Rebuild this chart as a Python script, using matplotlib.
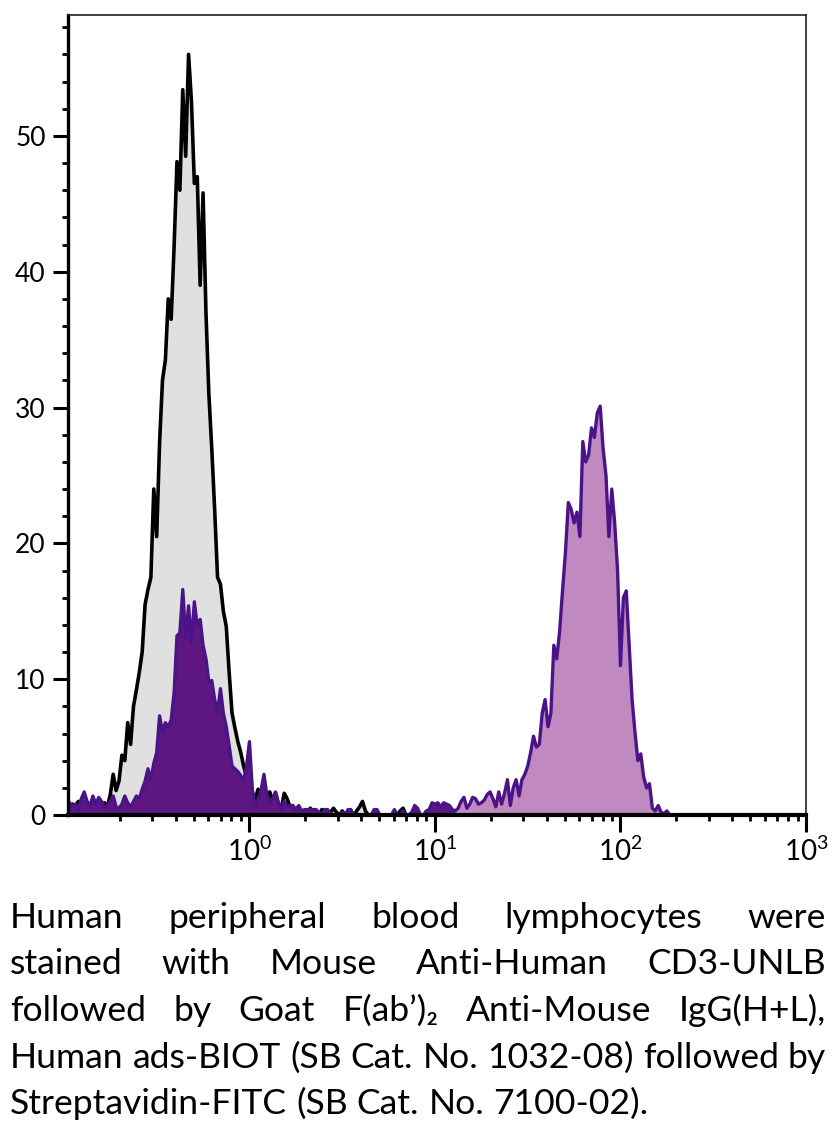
import numpy as np
import matplotlib
matplotlib.use("Agg")
import matplotlib.pyplot as plt
from matplotlib.ticker import FixedLocator, LogLocator, NullFormatter, FuncFormatter, MultipleLocator

# ---------------- data (counts per channel, 64 channels per decade starting at 10^-1) ----------------
channels_per_decade = 64
first_decade = -1

control_counts = [
    0.4, 0.6, 0.3, 0.8, 0.7, 1.0, 0.6, 0.9, 0.5, 0.8,
    1.0, 0.6, 0.9, 0.7, 0.9, 0.6, 1.5, 3.0, 1.8, 2.5,
    4.4, 4.0, 6.8, 5.2, 8.0, 9.2, 10.5, 12.0, 15.5, 16.6,
    17.5, 24.0, 20.5, 27.4, 32.0, 33.5, 38.0, 36.5, 41.8, 48.1,
    46.0, 53.4, 48.5, 56.0, 52.5, 46.5, 47.0, 39.0, 45.8, 37.0,
    31.0, 27.0, 22.5, 17.5, 17.0, 15.0, 13.9, 10.5, 7.5, 6.4,
    5.4, 4.6, 3.6, 2.8, 2.0, 1.6, 1.2, 1.9, 1.0, 0.8,
    1.2, 1.7, 1.0, 1.6, 0.8, 0.5, 1.6, 1.2, 0.6, 0.4,
    0.3, 0.6, 0.2, 0.3, 0.2, 0.5, 0.2, 0.3, 0.0, 0.4,
    0.3, 0.0, 0.2, 0.5, 0.2, 0.0, 0.3, 0.0, 0.2, 0.0,
    0.0, 0.3, 0.6, 1.0, 0.3, 0.0, 0.0, 0.0, 0.0, 0.0,
    0.0, 0.0, 0.0, 0.0, 0.0, 0.0, 0.3, 0.5, 0.0, 0.0,
    0.0,
]

stained_counts = [
    0.5, 0.8, 0.9, 0.6, 0.8, 0.4, 1.2, 1.7, 1.0, 0.7,
    1.4, 0.8, 1.3, 1.0, 0.5, 0.7, 1.0, 1.4, 0.6, 0.5,
    0.8, 1.4, 0.9, 0.6, 1.0, 1.4, 1.2, 1.9, 2.5, 3.4,
    2.6, 3.8, 4.6, 7.3, 6.1, 6.8, 6.5, 7.0, 9.0, 13.2,
    13.4, 16.6, 13.0, 15.4, 12.7, 15.7, 13.9, 14.4, 12.5, 11.5,
    9.8, 9.9, 8.5, 7.6, 9.3, 7.5, 6.5, 5.1, 3.6, 3.4,
    3.2, 2.9, 2.5, 3.6, 5.4, 1.9, 0.5, 1.2, 1.8, 3.0,
    1.5, 0.9, 1.2, 1.7, 0.9, 0.4, 1.0, 0.6, 0.7, 0.7,
    0.4, 0.7, 0.3, 0.4, 0.4, 0.4, 0.4, 0.4, 0.2, 0.0,
    0.4, 0.4, 0.1, 0.0, 0.0, 0.0, 0.2, 0.0, 0.4, 0.4,
    0.0, 0.0, 0.0, 0.0, 0.0, 0.0, 0.0, 0.4, 0.4, 0.0,
    0.0, 0.0, 0.0, 0.0, 0.4, 0.0, 0.0, 0.3, 0.0, 0.0,
    0.2, 0.7, 0.5, 0.0, 0.0, 0.3, 0.4, 0.9, 0.8, 0.9,
    0.6, 0.9, 0.8, 0.7, 0.4, 0.3, 0.5, 1.0, 1.3, 0.5,
    0.8, 1.3, 1.2, 0.8, 0.9, 1.1, 1.5, 1.7, 1.2, 0.6,
    1.7, 0.8, 1.6, 2.6, 0.7, 2.0, 2.6, 1.4, 2.6, 3.0,
    3.6, 4.6, 5.8, 5.0, 5.2, 7.5, 8.5, 6.5, 7.5, 12.5,
    11.5, 13.5, 16.5, 19.3, 23.0, 22.5, 21.5, 22.3, 20.5, 27.5,
    26.0, 26.5, 28.5, 27.8, 29.6, 30.1, 27.0, 25.0, 20.5, 24.0,
    21.5, 18.0, 11.0, 16.0, 16.5, 12.5, 8.5, 6.1, 4.0, 4.5,
    2.8, 2.0, 2.3, 0.5, 0.3, 0.7, 0.2, 0.1, 0.3, 0.0,
]

stained_gate_channel = 135

y_major_ticks = [0, 10, 20, 30, 40, 50]
x_major_ticks = [1, 10, 100, 1000]

caption_lines = [
    "Human peripheral blood lymphocytes were",
    "stained with Mouse Anti-Human CD3-UNLB",
    "followed by Goat F(ab’)₂ Anti-Mouse IgG(H+L),",
    "Human ads-BIOT (SB Cat. No. 1032-08) followed by",
    "Streptavidin-FITC (SB Cat. No. 7100-02).",
]

# ---------------- figure ----------------
FONT = ["Lato", "DejaVu Sans"]
plt.rcParams["font.family"] = FONT
plt.rcParams["mathtext.default"] = "regular"

W, H = 835, 1129
fig = plt.figure(figsize=(W / 100, H / 100), dpi=100)
ax = fig.add_axes([68 / W, 1 - 815 / H, (806 - 68) / W, (815 - 15) / H])

ctrl = np.array(control_counts)
ctrl_x = 10.0 ** (first_decade + np.arange(len(ctrl)) / channels_per_decade)
st = np.array(stained_counts)
st_idx = np.arange(len(st))
st_x = 10.0 ** (first_decade + st_idx / channels_per_decade)

ax.fill_between(ctrl_x, 0, ctrl, color="#e0e0e0", lw=0, zorder=1)
ax.plot(ctrl_x, ctrl, color="black", lw=2.6, zorder=2, solid_joinstyle="round")

ax.fill_between(st_x, 0, st, where=st_idx <= stained_gate_channel, color="#5e1680", lw=0, zorder=3)
ax.fill_between(st_x, 0, st, where=st_idx >= stained_gate_channel, color="#c08ac0", lw=0, zorder=3)
ax.plot(st_x, st, color="#4a1488", lw=2.4, zorder=4, solid_joinstyle="round")

ax.set_xscale("log")
ax.set_xlim(10 ** (-0.978), 1000)
ax.set_ylim(0, 58.9)

ax.xaxis.set_major_locator(FixedLocator(x_major_ticks))
ax.xaxis.set_major_formatter(FuncFormatter(lambda v, p: r"$10^{%d}$" % int(round(np.log10(v)))))
ax.xaxis.set_minor_locator(LogLocator(base=10, subs=np.arange(2, 10), numticks=30))
ax.xaxis.set_minor_formatter(NullFormatter())

ax.yaxis.set_major_locator(FixedLocator(y_major_ticks))
ax.yaxis.set_minor_locator(MultipleLocator(2))

ax.tick_params(axis="both", which="major", direction="out", length=11, width=2.2,
               labelsize=19, pad=5, color="black")
ax.tick_params(axis="both", which="minor", direction="out", length=4.5, width=2.0, color="black")
ax.tick_params(axis="x", which="major", length=12, pad=4, labelsize=20)

ax.spines["left"].set_linewidth(2.4)
ax.spines["bottom"].set_linewidth(3.0)
for s in ("top", "right"):
    ax.spines[s].set_linewidth(1.2)
    ax.spines[s].set_color("#222222")
for s in ax.spines.values():
    s.set_zorder(6)

# ---------------- justified caption ----------------
fig.canvas.draw()
renderer = fig.canvas.get_renderer()

left_px, right_px = 10, 826
last_line_right_px = 663
baselines = [928, 974.5, 1021, 1067.5, 1114]


def text_width(s, size):
    t = fig.text(0, 0, s, fontsize=size)
    w = t.get_window_extent(renderer).width
    t.remove()
    return w


cap_size = 20.0
cap_size *= (last_line_right_px - left_px) / text_width(caption_lines[-1], cap_size)
natural = text_width(caption_lines[3], cap_size)
if natural > (right_px - left_px):
    cap_size *= (right_px - left_px) / natural
space_w = text_width("a a", cap_size) - text_width("aa", cap_size)

for i, line in enumerate(caption_lines):
    words = line.split(" ")
    widths = [text_width(w, cap_size) for w in words]
    if i < len(caption_lines) - 1:
        gap = (right_px - left_px - sum(widths)) / (len(words) - 1)
    else:
        gap = space_w
    x = left_px
    y = 1 - baselines[i] / H
    for w, wd in zip(words, widths):
        fig.text(x / W, y, w, fontsize=cap_size, ha="left", va="baseline", color="black")
        x += wd + gap

fig.savefig("out.png", dpi=100)
